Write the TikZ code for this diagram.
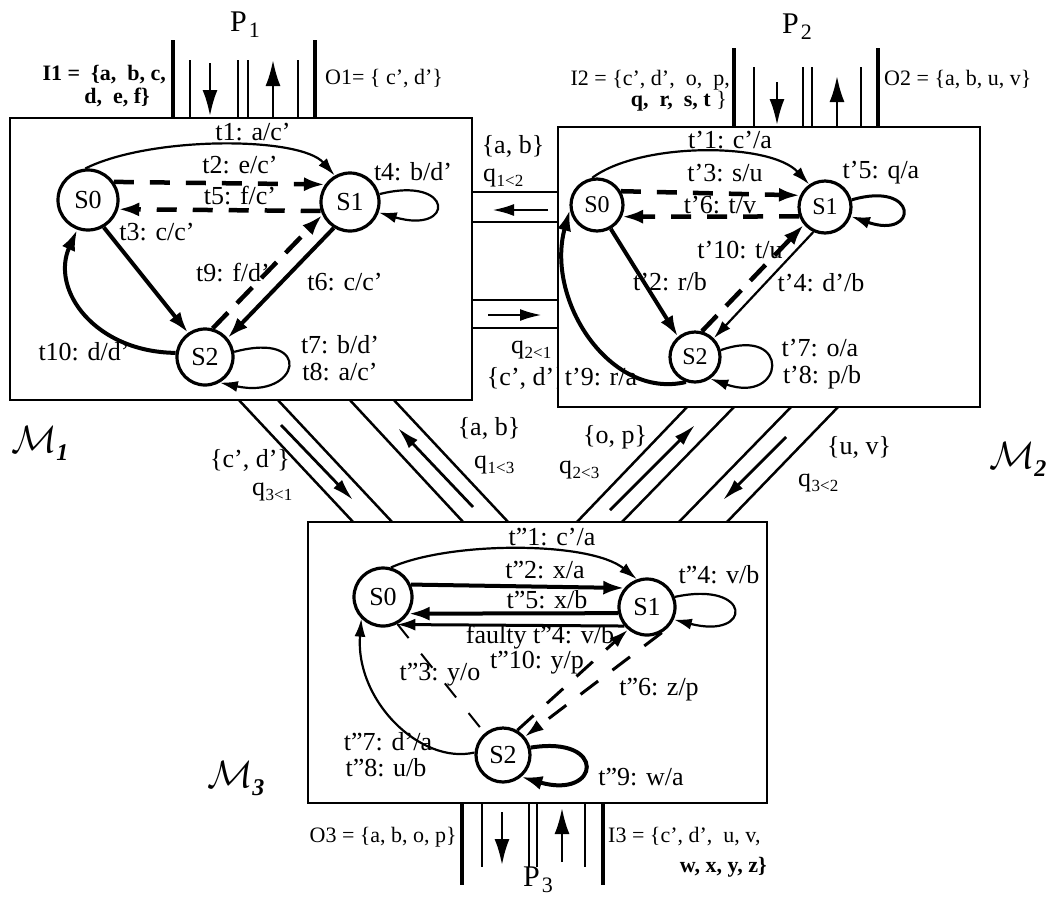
\documentclass[tikz,border=0pt]{standalone}
\usepackage{fix-cm}
\usepackage{fontspec}
\setmainfont{Liberation Serif}
\usetikzlibrary{arrows.meta}
\newcommand\qlab[1]{q\kern0.5pt\raisebox{-5pt}{\fontsize{17}{17}\selectfont #1}}
\newcommand\plab[1]{P\kern2pt\raisebox{-6pt}{\fontsize{22}{22}\selectfont #1}}
\newcommand\mlab[1]{{\fontsize{38}{38}\selectfont$\mathcal{M}$}\kern-1pt\raisebox{-8pt}{\fontsize{24}{24}\selectfont\bfseries\itshape #1}}
\begin{document}
\begin{tikzpicture}[x=1pt,y=-1pt,
  lb/.style={font=\fontsize{26}{27}\selectfont, inner sep=0pt},
  pl/.style={font=\fontsize{22}{24}\selectfont, inner sep=0pt},
  plb/.style={font=\fontsize{22}{24}\selectfont\bfseries, inner sep=0pt},
  ml/.style={inner sep=0pt},
  st/.style={circle,draw,line width=3.2pt,inner sep=0pt,font=\fontsize{26}{26}\selectfont},
  mbox/.style={draw,line width=2.8pt,fill=white},
  outerln/.style={line width=4pt},
  thinln/.style={line width=2.5pt},
  parr/.style={line width=2.5pt,-{Latex[length=26pt,width=15pt]}},
  carr/.style={line width=2.8pt,-{Latex[length=22pt,width=12pt]}},
  chan/.style={line width=2.5pt},
  thk/.style={line width=4pt,-{Latex[length=21pt,width=14pt]}},
  mid/.style={line width=3pt,-{Latex[length=19pt,width=12pt]}},
  thn/.style={line width=2.2pt,-{Latex[length=18pt,width=11pt]}},
  dsh/.style={line width=4.5pt,dash pattern=on 20pt off 16pt,-{Latex[length=21pt,width=14pt]}},
  dshB/.style={line width=4.5pt,dash pattern=on 22pt off 13pt,-{Latex[length=21pt,width=14pt]}},
  dshC/.style={line width=3pt,dash pattern=on 22pt off 18pt,-{Latex[length=19pt,width=12pt]}}
]
\path[use as bounding box] (0,0) rectangle (1059,898);

% ---------- port P1 ----------
\draw[outerln] (173,40) -- (173,118) (315,40) -- (315,118);
\draw[thinln] (190,60) -- (190,118) (238,60) -- (238,118) (248,60) -- (248,118) (298,60) -- (298,118);
\coordinate (p1a) at (210,63); \coordinate (p1b) at (210,116);
\coordinate (p1c) at (273,117); \coordinate (p1d) at (273,60);
\draw[parr] (p1a) -- (p1b);
\draw[parr] (p1c) -- (p1d);
\node[font=\fontsize{30}{30}\selectfont,inner sep=0pt] (P1) at (245,25) {\plab{1}};
\node[plb,anchor=east] (I1a) at (166,75) {I1 =\ \ \{a,\ \ b, c,};
\node[plb,anchor=east] (I1b) at (150,97) {d,\ \ e, f\}};
\node[pl,anchor=west] (O1) at (325,79) {O1= \{ c', d'\}};

% ---------- port P2 ----------
\draw[outerln] (734,48) -- (734,128) (878,48) -- (878,128);
\draw[thinln] (754,67) -- (754,128) (803,67) -- (803,128) (812,67) -- (812,128) (861,67) -- (861,128);
\coordinate (p2a) at (777,82); \coordinate (p2b) at (777,125);
\coordinate (p2c) at (837,127); \coordinate (p2d) at (837,76);
\draw[parr] (p2a) -- (p2b);
\draw[parr] (p2c) -- (p2d);
\node[font=\fontsize{30}{30}\selectfont,inner sep=0pt] (P2) at (797,27) {\plab{2}};
\node[pl,anchor=east] (I2a) at (730,80) {I2 = \{c', d',\ \ o,\ \ p,};
\node[pl,anchor=east] (I2b) at (727,101) {\textbf{q,\ \ r,\ \ s, t} \}};
\node[pl,anchor=west] (O2) at (884,80) {O2 = \{a, b, u, v\}};

% ---------- port P3 ----------
\draw[outerln] (462,802) -- (462,885) (603,802) -- (603,885);
\draw[thinln] (482,802) -- (482,867) (529,802) -- (529,867) (537,802) -- (537,867) (585,802) -- (585,867);
\coordinate (p3a) at (502,812); \coordinate (p3b) at (502,865);
\coordinate (p3c) at (562,862); \coordinate (p3d) at (562,808);
\draw[parr] (p3a) -- (p3b);
\draw[parr] (p3c) -- (p3d);
\node[font=\fontsize{30}{30}\selectfont,inner sep=0pt] (P3) at (538,880) {\plab{3}};
\node[pl,anchor=east] (O3) at (457,837) {O3 = \{a, b, o, p\}};
\node[pl,anchor=west] (I3a) at (608,837) {I3 = \{c', d',\ \ u, v,};
\node[plb,anchor=east] (I3b) at (767,867) {w, x, y, z\}};

% ---------- channels M1 <-> M2 ----------
\draw[chan] (470,192) -- (560,192) (470,222) -- (560,222) (470,300) -- (560,300) (470,328) -- (560,328);
\coordinate (h1a) at (548,210); \coordinate (h1b) at (492,210);
\coordinate (h2a) at (488,315); \coordinate (h2b) at (542,315);
\draw[carr] (h1a) -- (h1b);
\draw[carr] (h2a) -- (h2b);
\node[lb] (s12) at (513,146) {\{a, b\}};
\node[lb,anchor=base west] (q12) at (483,181) {\qlab{1<2}};
\node[lb,anchor=base west] (q21) at (511,353) {\qlab{2<1}};
\node[lb,anchor=east] (s21) at (567,378) {\{c', d'\}};

% ---------- diagonal channels ----------
\draw[chan] (237,398) -- (355,524) (276,398) -- (394,524);
\draw[chan] (348,398) -- (465,524) (392,398) -- (510,524);
\draw[chan] (575,524) -- (689,405) (620,524) -- (736,405);
\draw[chan] (677,524) -- (793,405) (725,524) -- (840,405);
\coordinate (dA1) at (281,425); \coordinate (dA2) at (353,500);
\coordinate (dB1) at (473,507); \coordinate (dB2) at (398,428);
\coordinate (dC1) at (610,510); \coordinate (dC2) at (695,425);
\coordinate (dD1) at (786,437); \coordinate (dD2) at (723,500);
\draw[carr] (dA1) -- (dA2);
\draw[carr] (dB1) -- (dB2);
\draw[carr] (dC1) -- (dC2);
\draw[carr] (dD1) -- (dD2);
\node[lb] (s31) at (250,460) {\{c', d'\}};
\node[lb,anchor=base west] (q31) at (252,495) {\qlab{3<1}};
\node[lb] (s13) at (489,428) {\{a, b\}};
\node[lb,anchor=base west] (q13) at (474,468) {\qlab{1<3}};
\node[lb] (s23) at (615,437) {\{o, p\}};
\node[lb,anchor=base west] (q23) at (559,473) {\qlab{2<3}};
\node[lb] (s32) at (859,447) {\{u, v\}};
\node[lb,anchor=base west] (q32) at (798,486) {\qlab{3<2}};

% ---------- machine boxes ----------
\draw[mbox] (10,118) rectangle (472,400);
\draw[mbox] (558,127) rectangle (980,407);
\draw[mbox] (308,522) rectangle (767,803);
\node[ml] (M1) at (40,444) {\mlab{1}};
\node[ml] (M2) at (1018,460) {\mlab{2}};
\node[ml] (M3) at (236,779) {\mlab{3}};

% ---------- M1 ----------
\node[st,minimum size=60pt] (a0) at (88,200) {S0};
\node[st,minimum size=58pt] (a1) at (350,202) {S1};
\node[st,minimum size=56pt] (a2) at (205,357) {S2};
\draw[thn] (a0.95) .. controls (150,136) and (300,136) .. (a1.120);
\draw[dsh] (a0.35) -- (a1.145);
\draw[dsh] (a1.197) -- (a0.-17);
\draw[thk] (a0.-60) -- (a2.125);
\draw[dshB] (a2.75) -- (a1.205);
\draw[thk] (a1.-122) -- (a2.40);
\draw[thk] (a2.172) .. controls (95,352) and (50,290) .. (a0.-110);
\draw[thn] (a1.15) .. controls (455,175) and (455,235) .. (a1.-20);
\draw[thn] (a2.10) .. controls (315,330) and (300,400) .. (a2.-60);
\node[lb] (t1) at (253,132) {t1: a/c'};
\node[lb] (t2) at (240,165) {t2: e/c'};
\node[lb] (t5) at (240,196) {t5: f/c'};
\node[lb] (t3) at (157,232) {t3: c/c'};
\node[lb] (t4) at (413,172) {t4: b/d'};
\node[lb] (t9) at (233,273) {t9: f/d'};
\node[lb] (t6) at (345,282) {t6: c/c'};
\node[lb] (t10) at (84,352) {t10: d/d'};
\node[lb] (t7) at (340,345) {t7: b/d'};
\node[lb] (t8) at (340,372) {t8: a/c'};

% ---------- M2 ----------
\node[st,minimum size=52pt,font=\fontsize{24}{24}\selectfont] (b0) at (597,205) {S0};
\node[st,minimum size=52pt,font=\fontsize{24}{24}\selectfont] (b1) at (825,207) {S1};
\node[st,minimum size=50pt,font=\fontsize{24}{24}\selectfont] (b2) at (695,357) {S2};
\draw[thn] (b0.100) .. controls (640,142) and (770,142) .. (b1.125);
\draw[dsh] (b0.30) -- (b1.155);
\draw[dsh] (b1.200) -- (b0.-25);
\draw[mid] (b1.15) .. controls (919,180) and (919,240) .. (b1.-20);
\draw[dshB] (b2.75) -- (b1.220);
\draw[thk] (b0.-60) -- (b2.130);
\draw[thn] (b1.-115) -- (b2.45);
\draw[thk] (b2.-110) .. controls (610,400) and (545,300) .. (b0.190);
\draw[thn] (b2.15) .. controls (792,325) and (785,405) .. (b2.-55);
\node[lb] (u1) at (730,140) {t'1: c'/a};
\node[lb] (u3) at (725,173) {t'3: s/u};
\node[lb] (u6) at (720,205) {t'6: t/v};
\node[lb] (u5) at (881,173) {t'5: q/a};
\node[lb] (u10) at (740,250) {t'10: t/u};
\node[lb] (u2) at (670,282) {t'2: r/b};
\node[lb] (u4) at (821,283) {t'4: d'/b};
\node[lb] (u9) at (601,377) {t'9: r/a};
\node[lb] (u7) at (820,348) {t'7: o/a};
\node[lb] (u8) at (822,377) {t'8: p/b};

% ---------- M3 ----------
\node[st,minimum size=58pt] (c0) at (383,597) {S0};
\node[st,minimum size=56pt] (c1) at (647,607) {S1};
\node[st,minimum size=54pt] (c2) at (503,755) {S2};
\draw[thn] (c0.75) .. controls (450,541) and (590,541) .. (c1.110);
\draw[thk] (c0.24) -- (c1.140);
\draw[thk] (c1.192) -- (c0.-33);
\draw[mid] (c1.220) -- (c0.-64);
\draw[thn] (c1.20) .. controls (753,580) and (753,640) .. (c1.-25);
\draw[dshC] (c2.60) -- (c1.230);
\draw[dshC] (c1.-60) -- (c2.40);
\draw[line width=2pt,dash pattern=on 18pt off 20pt] (c0.-62) -- (c2.130);
\draw[thn] (c2.175) .. controls (420,765) and (355,700) .. (c0.225);
\draw[thk] (c2.15) .. controls (608,735) and (600,800) .. (c2.-50);
\node[lb] (v1) at (552,537) {t"1: c'/a};
\node[lb] (v2) at (545,570) {t"2: x/a};
\node[lb] (v5) at (547,600) {t"5: x/b};
\node[lb] (vf) at (540,637) {faulty t"4: v/b};
\node[lb] (v4) at (719,575) {t"4: v/b};
\node[lb] (v10) at (537,663) {t"10: y/p};
\node[lb] (v6) at (659,690) {t"6: z/p};
\node[lb] (v3) at (440,675) {t"3: y/o};
\node[lb] (v7) at (388,742) {t"7: d'/a};
\node[lb] (v8) at (386,768) {t"8: u/b};
\node[lb] (v9) at (641,777) {t"9: w/a};
\end{tikzpicture}
\end{document}
